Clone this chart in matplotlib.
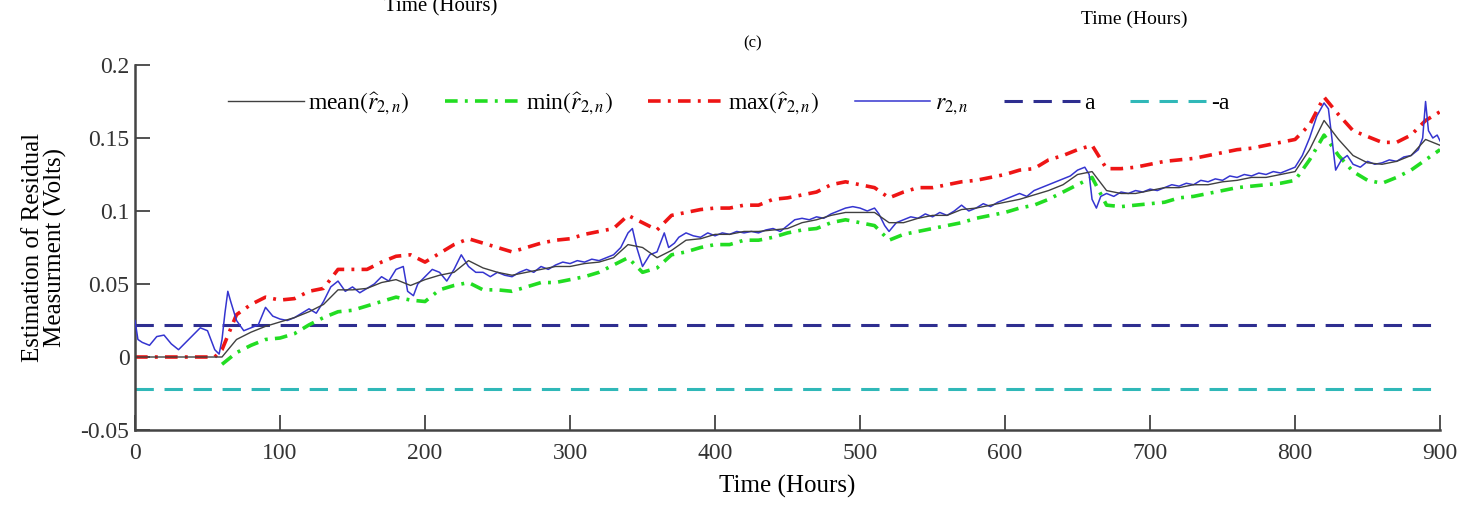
import numpy as np
import matplotlib
matplotlib.use("Agg")
import matplotlib.pyplot as plt

# threshold
a_level = 0.022

# mean / max / min of the estimated residual, sampled every 10 h from t=60
t_env = np.arange(60, 901, 10)
mean_r = [0.000, 0.012, 0.017, 0.021, 0.024, 0.027, 0.031, 0.036, 0.046, 0.046,
          0.047, 0.051, 0.053, 0.049, 0.053, 0.056, 0.058, 0.066, 0.061, 0.058,
          0.056, 0.058, 0.060, 0.062, 0.062, 0.064, 0.065, 0.068, 0.077, 0.075,
          0.068, 0.073, 0.080, 0.081, 0.084, 0.084, 0.086, 0.086, 0.087, 0.088,
          0.092, 0.094, 0.097, 0.099, 0.099, 0.099, 0.092, 0.092, 0.095, 0.097,
          0.097, 0.101, 0.102, 0.104, 0.106, 0.108, 0.111, 0.114, 0.118, 0.125,
          0.127, 0.114, 0.112, 0.112, 0.114, 0.116, 0.116, 0.118, 0.118, 0.120,
          0.121, 0.123, 0.123, 0.125, 0.127, 0.142, 0.162, 0.149, 0.138, 0.133,
          0.132, 0.134, 0.138, 0.149, 0.145]
max_r = [0.005, 0.029, 0.036, 0.041, 0.039, 0.040, 0.045, 0.047, 0.060, 0.060,
         0.060, 0.065, 0.069, 0.070, 0.065, 0.071, 0.077, 0.081, 0.078, 0.075,
         0.072, 0.075, 0.078, 0.080, 0.081, 0.084, 0.086, 0.088, 0.097, 0.092,
         0.087, 0.097, 0.099, 0.101, 0.102, 0.102, 0.104, 0.104, 0.108, 0.109,
         0.111, 0.113, 0.118, 0.120, 0.118, 0.116, 0.109, 0.113, 0.116, 0.116,
         0.118, 0.120, 0.121, 0.123, 0.125, 0.128, 0.129, 0.135, 0.138, 0.142,
         0.145, 0.129, 0.129, 0.130, 0.132, 0.134, 0.135, 0.136, 0.138, 0.140,
         0.142, 0.143, 0.145, 0.147, 0.149, 0.159, 0.178, 0.166, 0.155, 0.151,
         0.147, 0.147, 0.152, 0.162, 0.168]
min_r = [-0.005, 0.003, 0.008, 0.012, 0.013, 0.016, 0.022, 0.027, 0.031, 0.032,
         0.035, 0.038, 0.041, 0.039, 0.038, 0.046, 0.049, 0.051, 0.046, 0.046,
         0.045, 0.048, 0.051, 0.051, 0.053, 0.055, 0.058, 0.063, 0.068, 0.058,
         0.061, 0.070, 0.072, 0.075, 0.077, 0.077, 0.080, 0.080, 0.082, 0.085,
         0.087, 0.088, 0.092, 0.094, 0.092, 0.090, 0.080, 0.084, 0.086, 0.088,
         0.090, 0.092, 0.095, 0.097, 0.099, 0.102, 0.104, 0.108, 0.113, 0.118,
         0.123, 0.104, 0.103, 0.104, 0.105, 0.106, 0.109, 0.110, 0.112, 0.114,
         0.116, 0.117, 0.118, 0.119, 0.121, 0.135, 0.152, 0.138, 0.127, 0.121,
         0.119, 0.123, 0.128, 0.135, 0.142]

# measured residual r_2,n
t_r = [0, 2, 5, 10, 15, 20, 25, 30, 35, 40, 45, 50, 55, 58, 60, 62, 64, 66, 70, 75,
       80, 85, 90, 95, 100, 105, 110, 115, 120, 125, 130, 135, 140, 145, 150, 155,
       160, 165, 170, 175, 180, 185, 188, 192, 195, 200, 205, 210, 215, 220, 225,
       230, 235, 240, 245, 250, 255, 260, 265, 270, 275, 280, 285, 290, 295, 300,
       305, 310, 315, 320, 325, 330, 335, 340, 343, 346, 350, 355, 360, 365, 368,
       372, 375, 380, 385, 390, 395, 400, 405, 410, 415, 420, 425, 430, 435, 440,
       445, 450, 455, 460, 465, 470, 475, 480, 485, 490, 495, 500, 505, 510, 513,
       517, 520, 525, 530, 535, 540, 545, 550, 555, 560, 565, 570, 575, 580, 585,
       590, 595, 600, 605, 610, 615, 620, 625, 630, 635, 640, 645, 650, 655, 658,
       660, 663, 666, 670, 675, 680, 685, 690, 695, 700, 705, 710, 715, 720, 725,
       730, 735, 740, 745, 750, 755, 760, 765, 770, 775, 780, 785, 790, 795, 800,
       805, 810, 815, 820, 823, 826, 828, 832, 836, 840, 845, 850, 855, 860, 865,
       870, 875, 880, 885, 888, 890, 892, 895, 898, 900]
r_2n = [0.025, 0.012, 0.010, 0.008, 0.014, 0.015, 0.009, 0.005, 0.010, 0.015,
        0.020, 0.018, 0.005, 0.002, 0.012, 0.030, 0.045, 0.038, 0.025, 0.018,
        0.020, 0.022, 0.034, 0.028, 0.026, 0.025, 0.027, 0.030, 0.033, 0.030,
        0.038, 0.048, 0.052, 0.045, 0.048, 0.044, 0.047, 0.050, 0.055, 0.052,
        0.060, 0.062, 0.045, 0.042, 0.050, 0.055, 0.060, 0.058, 0.052, 0.060,
        0.070, 0.062, 0.058, 0.058, 0.055, 0.058, 0.056, 0.055, 0.058, 0.060,
        0.058, 0.062, 0.060, 0.063, 0.065, 0.064, 0.066, 0.065, 0.067, 0.066,
        0.068, 0.070, 0.075, 0.085, 0.088, 0.075, 0.062, 0.070, 0.072, 0.085,
        0.075, 0.078, 0.082, 0.085, 0.083, 0.082, 0.085, 0.083, 0.085, 0.084,
        0.086, 0.085, 0.086, 0.085, 0.087, 0.088, 0.086, 0.090, 0.094, 0.095,
        0.094, 0.096, 0.095, 0.098, 0.100, 0.102, 0.103, 0.102, 0.100, 0.102,
        0.098, 0.090, 0.086, 0.092, 0.094, 0.096, 0.095, 0.098, 0.096, 0.099,
        0.097, 0.100, 0.104, 0.100, 0.102, 0.105, 0.103, 0.106, 0.108, 0.110,
        0.112, 0.110, 0.114, 0.116, 0.118, 0.120, 0.122, 0.124, 0.128, 0.130,
        0.125, 0.108, 0.102, 0.110, 0.112, 0.110, 0.113, 0.112, 0.114, 0.113,
        0.115, 0.114, 0.116, 0.118, 0.117, 0.119, 0.118, 0.121, 0.120, 0.122,
        0.121, 0.124, 0.123, 0.125, 0.124, 0.126, 0.125, 0.127, 0.126, 0.128,
        0.130, 0.138, 0.150, 0.165, 0.174, 0.170, 0.145, 0.128, 0.135, 0.138,
        0.132, 0.130, 0.134, 0.132, 0.133, 0.135, 0.134, 0.137, 0.138, 0.142,
        0.150, 0.175, 0.155, 0.150, 0.152, 0.148]

x_ticks = [0, 100, 200, 300, 400, 500, 600, 700, 800, 900]
y_ticks = [-0.05, 0, 0.05, 0.1, 0.15, 0.2]
y_ticklabels = ["-0.05", "0", "0.05", "0.1", "0.15", "0.2"]

plt.rcParams["font.family"] = ["Liberation Serif", "DejaVu Serif"]
plt.rcParams["mathtext.fontset"] = "stix"

fig = plt.figure(figsize=(14.58, 5.05), dpi=100)
ax = fig.add_axes([0.0926, 0.1485, 0.8951, 0.7228])

mean_full_t = np.concatenate([[0], t_env])
mean_full = np.concatenate([[0.0], mean_r])
max_full_t = np.concatenate([[0, 55], t_env])
max_full = np.concatenate([[0.0, 0.0], max_r])

ax.plot(mean_full_t, mean_full, color="#404040", lw=1.0,
        label=r"mean$(\widehat{r}_{2,n})$", zorder=4)
ax.plot(t_env, min_r, color="#22dd22", lw=2.6, linestyle=(0, (3.5, 2, 0.8, 2)),
        label=r"min$(\widehat{r}_{2,n})$", zorder=2)
ax.plot(max_full_t, max_full, color="#ee1515", lw=2.6, linestyle=(0, (3.5, 2, 0.8, 2)),
        label=r"max$(\widehat{r}_{2,n})$", zorder=2)
ax.plot(t_r, r_2n, color="#3535d0", lw=1.1, label=r"$r_{2,n}$", zorder=3)
ax.plot([0, 900], [a_level, a_level], color="#2e2e90", lw=2.2,
        linestyle=(0, (6, 3.5)), label="a", zorder=1)
ax.plot([0, 900], [-a_level, -a_level], color="#30b8b8", lw=2.2,
        linestyle=(0, (6, 3.5)), label="-a", zorder=1)

ax.set_xlim(0, 900)
ax.set_ylim(-0.05, 0.2)
ax.set_xticks(x_ticks)
ax.set_yticks(y_ticks)
ax.set_yticklabels(y_ticklabels)
ax.tick_params(direction="in", length=11, width=1.2, labelsize=17, colors="#333333")
ax.tick_params(axis="x", pad=9)
ax.tick_params(axis="y", pad=4)
for s in ["top", "right"]:
    ax.spines[s].set_visible(False)
for s in ["left", "bottom"]:
    ax.spines[s].set_linewidth(1.8)
    ax.spines[s].set_color("#444444")

ax.set_xlabel("Time (Hours)", fontsize=18, labelpad=8)
ax.set_ylabel("Estimation of Residual\nMeasurment (Volts)", fontsize=18, labelpad=10,
              linespacing=1.0)

ax.legend(loc="upper left", bbox_to_anchor=(0.055, 0.99), ncol=6, frameon=False,
          fontsize=17, handlelength=3.2, handletextpad=0.2, columnspacing=1.5)

fig.text(0.302, 0.986, "Time (Hours)", ha="center", va="center", fontsize=15)
fig.text(0.778, 0.962, "Time (Hours)", ha="center", va="center", fontsize=14)
fig.text(0.516, 0.915, "(c)", ha="center", va="center", fontsize=12)

fig.savefig("out.png", dpi=100)
